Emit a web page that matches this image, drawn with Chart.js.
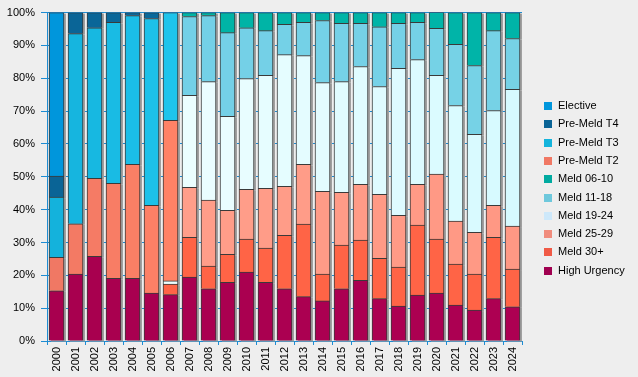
<!DOCTYPE html>
<html>
<head>
<meta charset="utf-8">
<script src="https://cdn.jsdelivr.net/npm/chart.js@4"></script>
<style>
body { margin: 0; background: #eeeeee; }
canvas { display: block; }
</style>
</head>
<body>
<canvas id="transplantChart" width="638" height="377"></canvas>
<script>
// years on the x axis
const years = ['2000', '2001', '2002', '2003', '2004', '2005', '2006', '2007', '2008', '2009',
    '2010', '2011', '2012', '2013', '2014', '2015', '2016', '2017', '2018', '2019',
    '2020', '2021', '2022', '2023', '2024'];

// share of each group per year (%)
const highUrgency = [15.3, 20.4, 25.8, 19.1, 19.1, 14.6, 14.1, 19.5, 15.9, 17.9, 21.0, 17.9, 15.9, 13.5, 12.2, 15.9, 18.5, 12.9, 10.6, 14.0, 14.6, 10.9, 9.4, 12.9, 10.4];
const meld30 = [0, 0, 0, 0, 0, 0, 3.2, 12.1, 6.9, 8.5, 10.0, 10.4, 16.3, 22.1, 8.2, 13.3, 12.2, 12.3, 11.9, 21.3, 16.4, 12.5, 11.0, 18.7, 11.5];
const meld25 = [0, 0, 0, 0, 0, 0, 0, 15.2, 20.1, 13.4, 15.2, 18.2, 14.9, 18.2, 25.2, 16.1, 17.0, 19.5, 15.8, 12.4, 19.8, 13.1, 12.7, 9.7, 13.1];
const meld19 = [0, 0, 0, 0, 0, 0, 1.0, 28.0, 36.1, 28.6, 33.7, 34.4, 40.1, 33.1, 33.1, 33.7, 35.9, 32.8, 44.7, 38.0, 30.1, 35.2, 29.8, 28.9, 41.6];
const meld11 = [0, 0, 0, 0, 0, 0, 0, 24.0, 20.1, 25.5, 15.5, 13.6, 9.2, 10.1, 18.9, 17.7, 13.1, 18.2, 13.7, 11.3, 14.3, 18.6, 21.0, 24.3, 15.5];
const meld06 = [0, 0, 0, 0, 0, 0, 0, 1.2, 0.9, 6.1, 4.6, 5.5, 3.6, 3.0, 2.4, 3.3, 3.3, 4.3, 3.3, 3.0, 4.9, 9.7, 16.1, 5.5, 7.9];
const preMeldT2 = [10.2, 15.3, 23.7, 28.9, 34.7, 26.7, 48.9, 0, 0, 0, 0, 0, 0, 0, 0, 0, 0, 0, 0, 0, 0, 0, 0, 0, 0];
const preMeldT3 = [18.3, 57.9, 45.9, 49.0, 45.3, 56.9, 32.8, 0, 0, 0, 0, 0, 0, 0, 0, 0, 0, 0, 0, 0, 0, 0, 0, 0, 0];
const preMeldT4 = [6.4, 6.4, 4.6, 3.0, 0.9, 1.8, 0, 0, 0, 0, 0, 0, 0, 0, 0, 0, 0, 0, 0, 0, 0, 0, 0, 0, 0];
const elective = [49.8, 0, 0, 0, 0, 0, 0, 0, 0, 0, 0, 0, 0, 0, 0, 0, 0, 0, 0, 0, 0, 0, 0, 0, 0];

const yTicks = [0, 10, 20, 30, 40, 50, 60, 70, 80, 90, 100];

const blue = '#1e8cd2';

// blend two hex colours
function mix(c1, c2, t) {
    const a = parseInt(c1.slice(1), 16);
    const b = parseInt(c2.slice(1), 16);
    const r = Math.round(((a >> 16) & 255) * (1 - t) + ((b >> 16) & 255) * t);
    const g = Math.round(((a >> 8) & 255) * (1 - t) + ((b >> 8) & 255) * t);
    const bl = Math.round((a & 255) * (1 - t) + (b & 255) * t);
    return 'rgb(' + r + ',' + g + ',' + bl + ')';
}

// bars get slightly shaded from left to right
function shade(left, right, span) {
    return function (ctx) {
        const t = Math.min(ctx.dataIndex / span, 1);
        return mix(left, right, t);
    };
}

function makeSet(label, data, left, right, span, legendColor) {
    return {
        label: label,
        data: data,
        backgroundColor: shade(left, right, span),
        legendColor: legendColor,
        borderColor: '#3a3a3a',
        borderWidth: 1,
        barThickness: 15
    };
}

// first dataset sits at the bottom of the stack
const datasets = [
    makeSet('High Urgency', highUrgency, '#a8004f', '#ad0052', 24, '#a00050'),
    makeSet('Meld 30+', meld30, '#ff6446', '#ff6446', 24, '#f05a46'),
    makeSet('Meld 25-29', meld25, '#ffa08c', '#ff9884', 24, '#f08c7d'),
    makeSet('Meld 19-24', meld19, '#f4ffff', '#d6faff', 24, '#cde8fa'),
    makeSet('Meld 11-18', meld11, '#72cfe8', '#76d2e6', 24, '#6ec8dc'),
    makeSet('Meld 06-10', meld06, '#00b4a5', '#00b4a8', 24, '#00aaa0'),
    makeSet('Pre-Meld T2', preMeldT2, '#f07864', '#ff8266', 6, '#f07864'),
    makeSet('Pre-Meld T3', preMeldT3, '#14b2dc', '#1ec4ec', 6, '#14b4dc'),
    makeSet('Pre-Meld T4', preMeldT4, '#0a6496', '#0a6a9c', 6, '#0a6496'),
    makeSet('Elective', elective, '#0096dc', '#0096dc', 6, '#0096dc')
];

// grey drop shadow behind each bar
const shadowPlugin = {
    id: 'barShadow',
    beforeDatasetsDraw(chart) {
        const ctx = chart.ctx;
        ctx.save();
        ctx.fillStyle = '#a0a0a0';
        chart.data.datasets.forEach((ds, i) => {
            chart.getDatasetMeta(i).data.forEach(bar => {
                const top = Math.min(bar.y, bar.base);
                const h = Math.abs(bar.base - bar.y);
                if (h <= 0) return;
                ctx.fillRect(bar.x - bar.width / 2 + 2, top + 1, bar.width, h);
            });
        });
        ctx.restore();
    }
};

// legend on the right, top item = top of stack
const legendPlugin = {
    id: 'sideLegend',
    afterDraw(chart) {
        const ctx = chart.ctx;
        const items = chart.data.datasets.slice().reverse();
        ctx.save();
        ctx.font = '11px "Liberation Sans", Arial, sans-serif';
        ctx.textBaseline = 'middle';
        ctx.textAlign = 'left';
        items.forEach((ds, i) => {
            const cy = 106 + i * 18.3;
            ctx.fillStyle = ds.legendColor;
            ctx.fillRect(544, Math.round(cy - 4), 8, 8);
            ctx.fillStyle = '#000';
            ctx.fillText(ds.label, 558, cy);
        });
        ctx.restore();
    }
};

Chart.defaults.font.family = '"Liberation Sans", Arial, sans-serif';
Chart.defaults.font.size = 11;
Chart.defaults.color = '#000';

const config = {
    type: 'bar',
    data: {
        labels: years,
        datasets: datasets
    },
    options: {
        responsive: false,
        animation: false,
        layout: {
            padding: { top: 12, right: 116, left: 0, bottom: 0 }
        },
        plugins: {
            legend: { display: false },
            tooltip: { enabled: false }
        },
        scales: {
            x: {
                stacked: true,
                grid: {
                    display: true,
                    drawOnChartArea: false,
                    drawTicks: true,
                    tickLength: 4,
                    color: blue,
                    offset: true
                },
                border: { color: blue },
                ticks: {
                    autoSkip: false,
                    minRotation: 90,
                    maxRotation: 90,
                    padding: 2
                },
                afterFit: function (scale) { scale.height = 36; }
            },
            y: {
                stacked: true,
                min: 0,
                max: 100,
                afterBuildTicks: function (scale) {
                    scale.ticks = yTicks.map(v => ({ value: v }));
                },
                ticks: {
                    padding: 6,
                    callback: v => v + '%'
                },
                grid: {
                    color: blue,
                    tickLength: 6
                },
                border: { color: blue },
                afterFit: function (scale) { scale.width = 47; }
            }
        }
    },
    plugins: [shadowPlugin, legendPlugin]
};

const ctx = document.getElementById('transplantChart').getContext('2d');
const chart = new Chart(ctx, config);
</script>
</body>
</html>
